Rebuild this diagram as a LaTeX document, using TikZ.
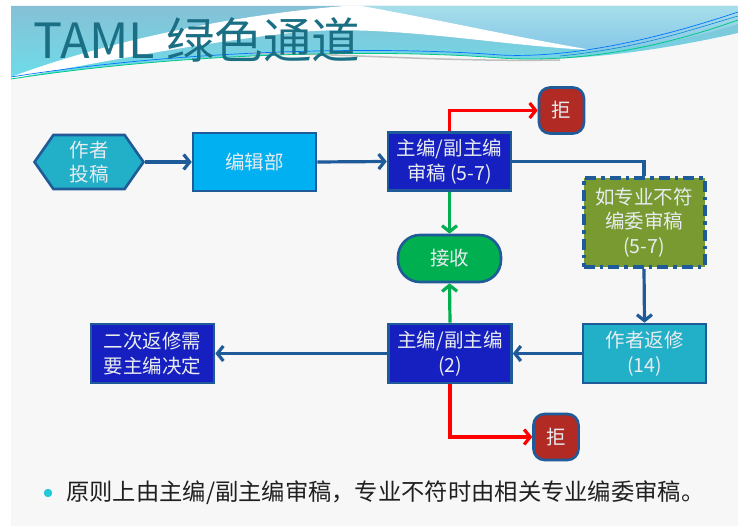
\documentclass[tikz,border=0pt]{standalone}
\usepackage{fontspec}
\setmainfont{Noto Sans CJK SC}
\usetikzlibrary{arrows.meta,shapes.symbols,shapes.misc}
\definecolor{slidebg}{HTML}{F7F7F7}
\definecolor{bandtop}{HTML}{86C0D6}
\definecolor{bandbot}{HTML}{6CDDE9}
\definecolor{bandlighttop}{HTML}{A6DEEA}
\definecolor{bandlightbot}{HTML}{86C8E8}
\definecolor{titlecol}{HTML}{1A6F84}
\definecolor{bord}{HTML}{1F5A99}
\definecolor{nodetext}{HTML}{E8ECF0}
\definecolor{tealfill}{HTML}{22B0C8}
\definecolor{skyfill}{HTML}{00B0F0}
\definecolor{bluefill}{HTML}{1620C0}
\definecolor{redfill}{HTML}{B22A24}
\definecolor{greenfill}{HTML}{00B050}
\definecolor{olivefill}{HTML}{789A30}
\definecolor{redline}{HTML}{FF0000}
\definecolor{bulletcol}{HTML}{20C8D8}
\definecolor{bodytext}{HTML}{202020}
\tikzset{
  nodefont/.style={font=\fontsize{19.5}{24.5}\selectfont},
  box/.style={draw=bord, line width=2.6pt, minimum width=123pt, minimum height=58pt,
    inner sep=0pt, align=center, text=nodetext, nodefont},
  rejbox/.style={box, fill=redfill, minimum width=45pt, minimum height=46pt, rounded corners=11pt},
  conn/.style={line width=3.2pt, draw=bord, -{Straight Barb[length=6pt,width=15pt]}},
  plainconn/.style={line width=3.2pt, draw=bord},
  rejconn/.style={conn, draw=redline},
  accconn/.style={conn, draw=greenfill},
}
\begin{document}
\begin{tikzpicture}[x=1pt,y=-1pt]
\useasboundingbox (0,0) rectangle (738,526);
% background
\fill[white] (0,0) rectangle (738,526);
\fill[slidebg] (11,6) rectangle (738,526);
% title band
\shade[top color=bandtop, bottom color=bandbot]
  (11,6) -- (738,6) -- (738,33) .. controls (640,55) and (560,62) .. (500,58)
  .. controls (400,50) and (200,50) .. (11,79) -- cycle;
\shade[top color=bandlighttop, bottom color=bandlightbot]
  (362,6) .. controls (440,20) and (520,38) .. (592,50)
  .. controls (650,48) and (700,36) .. (738,24) -- (738,6) -- cycle;
\fill[white] (11,77) .. controls (110,40) and (240,14) .. (345,6) -- (362,6)
  .. controls (440,20) and (520,38) .. (592,50)
  .. controls (500,46) and (390,24) .. (300,32)
  .. controls (220,40) and (120,58) .. (11,79) -- cycle;
\draw[color=black!25, line width=1.5pt] (250,53) .. controls (350,54) and (450,62) .. (560,60);
\draw[color=teal!60!green!70!cyan, line width=0.8pt]
  (11,79) .. controls (200,50) and (400,50) .. (500,58) .. controls (560,62) and (640,55) .. (738,20);
\draw[color=blue!55!cyan, line width=0.7pt]
  (11,77) .. controls (200,47) and (400,47) .. (500,55) .. controls (560,58) and (640,45) .. (738,12);
\draw[color=cyan!70!blue, line width=0.6pt]
  (560,56) .. controls (640,48) and (690,30) .. (738,16);
% title
\node[anchor=west, text=titlecol, font=\fontsize{48.5}{52}\selectfont, inner sep=0pt] (title) at (33,40) {TAML 绿色通道};
% nodes
\node[box, signal, signal to=west and east, signal pointer angle=110, fill=tealfill,
  minimum width=109pt, minimum height=54pt] (author) at (89,162) {作者\\投稿};
\node[box, fill=skyfill] (office) at (254.5,162) {编辑部};
\node[box, fill=bluefill] (chief1) at (449.5,161.5) {主编/副主编\\审稿 (5-7)};
\node[rejbox] (rej1) at (561.5,110.5) {拒};
\node[box, fill=greenfill, minimum width=103pt, minimum height=47pt, rounded corners=22pt] (accept) at (449.5,258.5) {接收};
\node[box, fill=olivefill, minimum width=121pt, minimum height=89pt, line width=4pt,
  dash pattern=on 11pt off 5pt on 3.5pt off 5pt] (board) at (644,222.5) {如专业不符\\编委审稿\\(5-7)};
\node[box, fill=tealfill, minimum height=59pt] (revise) at (644.5,353.5) {作者返修\\(14)};
\node[box, fill=bluefill, minimum height=59pt] (chief2) at (450,353.5) {主编/副主编\\(2)};
\node[box, fill=bluefill, minimum height=59pt] (second) at (152.5,353.5) {二次返修需\\要主编决定};
\node[rejbox] (rej2) at (556,437) {拒};
% connectors
\draw[conn] (author.east) -- (office.west);
\draw[conn] (office.east) -- (chief1.west);
\draw[rejconn] (chief1.north) |- (rej1.west);
\draw[plainconn] (chief1.east) -| (board.north);
\draw[accconn] (chief1.south) -- (accept.north);
\draw[conn] (board.south) -- (revise.north);
\draw[conn] (revise.west) -- (chief2.east);
\draw[conn] (chief2.west) -- (second.east);
\draw[accconn] (chief2.north) -- (accept.south);
\draw[rejconn] (chief2.south) |- (rej2.west);
% bullet text
\fill[bulletcol] (48,493) circle (4.2);
\node[anchor=west, text=bodytext, font=\fontsize{23.3}{27}\selectfont, inner sep=0pt] (note) at (66,493)
  {原则上由主编/副主编审稿，专业不符时由相关专业编委审稿。};
\end{tikzpicture}
\end{document}
